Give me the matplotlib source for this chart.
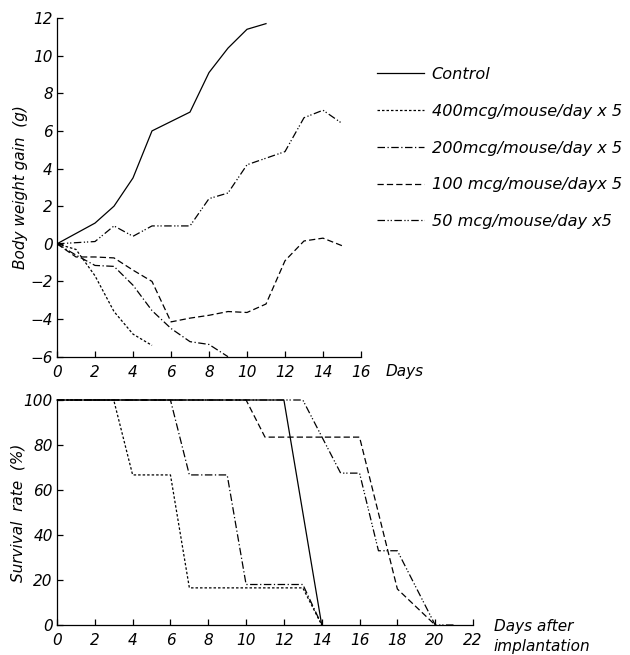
import matplotlib
matplotlib.use("Agg")
import matplotlib.pyplot as plt

plt.rcParams['font.family'] = ['DejaVu Sans']
plt.rcParams['font.style'] = 'italic'
plt.rcParams['font.size'] = 11

# Body weight gain (g) by day
ctrl_days = [0, 2, 3, 4, 5, 7, 8, 9, 10, 11]
ctrl_gain = [0, 1.1, 2.0, 3.5, 6.0, 7.0, 9.1, 10.4, 11.4, 11.7]

d400_days = [0, 1, 2, 3, 4, 5]
d400_gain = [0, -0.3, -1.7, -3.6, -4.8, -5.4]

d200_days = [0, 1, 2, 3, 4, 5, 6, 7, 8, 9]
d200_gain = [0, -0.6, -1.15, -1.2, -2.2, -3.55, -4.5, -5.2, -5.35, -6.0]

d100_days = [0, 1, 2, 3, 4, 5, 6, 7, 8, 9, 10, 11, 12, 13, 14, 15]
d100_gain = [0, -0.7, -0.7, -0.75, -1.4, -2.0, -4.15, -3.95, -3.8, -3.6, -3.65, -3.2, -0.9, 0.15, 0.3, -0.1]

d50_days = [0, 2, 3, 4, 5, 6, 7, 8, 9, 10, 11, 12, 13, 14, 15]
d50_gain = [0, 0.12, 0.95, 0.4, 0.95, 0.95, 0.95, 2.4, 2.7, 4.2, 4.55, 4.9, 6.7, 7.1, 6.4]

# Survival rate (%) by days after implantation
s_ctrl_days = [0, 12, 14]
s_ctrl = [100, 100, 0]
s400_days = [0, 3, 4, 6, 7, 13, 14]
s400 = [100, 100, 66.7, 66.7, 16.5, 16.5, 0]
s200_days = [0, 6, 7, 9, 10, 13, 14]
s200 = [100, 100, 66.7, 66.7, 18, 18, 0]
s100_days = [0, 10, 11, 16, 18, 20]
s100 = [100, 100, 83.5, 83.5, 16, 0]
s50_days = [0, 13, 15, 16, 17, 18, 20, 21]
s50 = [100, 100, 67.5, 67.5, 33, 33, 0, 0]

labels = ["Control", "400mcg/mouse/day x 5", "200mcg/mouse/day x 5",
          "100 mcg/mouse/dayx 5", "50 mcg/mouse/day x5"]
styles = ['-', (0, (2, 1.6)), (0, (6, 2, 1, 2)), (0, (5, 2.5)), (0, (6, 2, 1, 1.5, 1, 2))]
lw = 0.9

fig = plt.figure(figsize=(6.3, 6.55), dpi=100)

# top panel
ax1 = fig.add_axes([57/630, 1 - 356.7/655, 304/630, 338.7/655])
series = [(ctrl_days, ctrl_gain), (d400_days, d400_gain), (d200_days, d200_gain),
          (d100_days, d100_gain), (d50_days, d50_gain)]
handles = []
for (x, y), ls, lab in zip(series, styles, labels):
    h, = ax1.plot(x, y, color='black', lw=lw, linestyle=ls, label=lab)
    handles.append(h)
ax1.set_xlim(0, 16)
ax1.set_ylim(-6, 12)
ax1.set_xticks(range(0, 17, 2))
ax1.set_yticks(range(-6, 13, 2))
ax1.set_yticklabels([str(v).replace('-', '\u2212') for v in range(-6, 13, 2)])
ax1.set_ylabel("Body weight gain  (g)")
ax1.yaxis.set_label_coords(-0.095, 0.5)
ax1.text(1.08, -0.045, "Days", transform=ax1.transAxes, ha='left', va='center')

# bottom panel
ax2 = fig.add_axes([57/630, 1 - 625/655, 416/630, 225/655])
sseries = [(s_ctrl_days, s_ctrl), (s400_days, s400), (s200_days, s200),
           (s100_days, s100), (s50_days, s50)]
for (x, y), ls in zip(sseries, styles):
    ax2.plot(x, y, color='black', lw=lw, linestyle=ls, clip_on=False)
ax2.set_xlim(0, 22)
ax2.set_ylim(0, 100)
ax2.set_xticks(range(0, 23, 2))
ax2.set_yticks(range(0, 101, 20))
ax2.set_ylabel("Survival  rate  (%)")
ax2.yaxis.set_label_coords(-0.075, 0.5)
ax2.text(1.05, -0.005, "Days after", transform=ax2.transAxes, ha='left', va='center')
ax2.text(1.05, -0.094, "implantation", transform=ax2.transAxes, ha='left', va='center')

for ax in (ax1, ax2):
    for s in ('top', 'right'):
        ax.spines[s].set_visible(False)
    for s in ('left', 'bottom'):
        ax.spines[s].set_linewidth(0.9)
    ax.tick_params(direction='in', length=4, width=0.9, labelsize=11)
    ax.tick_params(axis='x', pad=6)
    ax.tick_params(axis='y', pad=3)

fig.legend(handles=handles, loc='upper left', bbox_to_anchor=(377/630, 1 - 67/655),
           frameon=False, borderpad=0, borderaxespad=0, handlelength=2.9,
           handletextpad=0.5, labelspacing=1.35, fontsize=11.6)

fig.savefig("out.png", dpi=100)
